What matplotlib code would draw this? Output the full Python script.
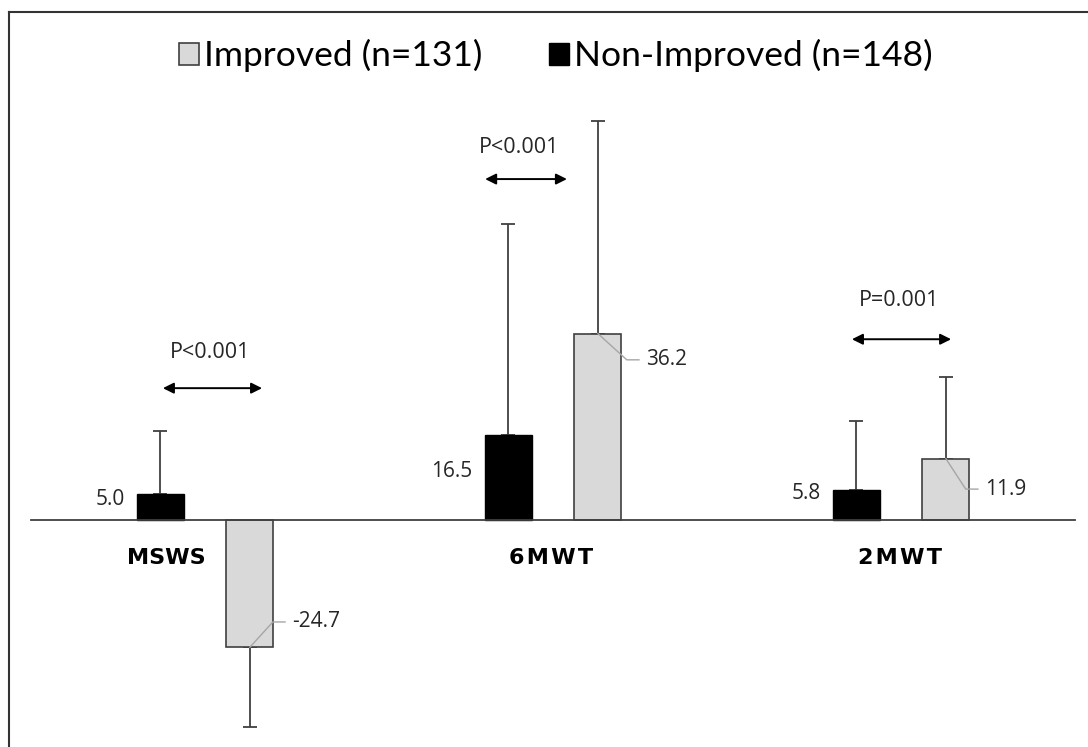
import numpy as np
import matplotlib.pyplot as plt
from matplotlib.lines import Line2D

# ── Data ──────────────────────────────────────────────────────────────────────
categories   = ['MSWS', '6MWT', '2MWT']
non_improved = [5.0, 16.5, 5.8]
improved     = [-24.7, 36.2, 11.9]
err_non      = [12.3, 41.0, 13.4]
err_imp      = [15.5, 41.3, 15.9]
p_labels     = ['P<0.001', 'P<0.001', 'P=0.001']
legend_imp   = 'Improved (n=131)'
legend_non   = 'Non-Improved (n=148)'

# ── Layout (annotation placement only) ────────────────────────────────────────
bar_off, bar_w = 0.129, 0.135
cat_label_dx   = [-0.112, -0.006, -0.003]
non_label_y    = [3.9, 9.5, 5.2]
imp_label_pos  = [(0.25, -19.8), (0.267, 31.1), (0.241, 6.0)]
arrow_span     = [(-0.121, 0.164), (-0.195, 0.040), (-0.141, 0.144)]
arrow_y        = [25.6, 66.2, 35.1]
ptext_x        = [0.014, -0.098, -0.006]
ptext_y        = [32.6, 72.4, 42.7]

DARK  = '#404040'
LIGHT = '#d9d9d9'
VAL_FONT = 'Open Sans'
VAL_SIZE = 15

fig = plt.figure(figsize=(10.88, 7.47), dpi=100)
ax = fig.add_axes([0, 0, 1, 1])
ax.set_xlim(-205 / 348, (1088 - 205) / 348)
ax.set_ylim(-227 / 5.15, 520 / 5.15)
ax.axis('off')

x = np.arange(len(categories))

bars_non = ax.bar(x - bar_off, non_improved, bar_w, color='black',
                  edgecolor='black', linewidth=1, zorder=3)
bars_imp = ax.bar(x + bar_off, improved, bar_w, color=LIGHT,
                  edgecolor=DARK, linewidth=1.2, zorder=3)

# one-sided error bars (away from zero)
for xs, vals, errs in [(x - bar_off, non_improved, err_non),
                       (x + bar_off, improved, err_imp)]:
    vals = np.array(vals)
    errs = np.array(errs)
    lower = np.where(vals < 0, errs, 0)
    upper = np.where(vals >= 0, errs, 0)
    ax.errorbar(xs, vals, yerr=[lower, upper], fmt='none', ecolor=DARK,
                elinewidth=1.3, capsize=5, capthick=1.3, zorder=2)

# zero axis line
ax.plot([-0.5, 2.5], [0, 0], color=DARK, lw=1.3, zorder=4)

# category labels (slightly letter-spaced, bold)
for i, c in enumerate(categories):
    lbl = c if i == 0 else '\u200a'.join(c)
    ax.text(i + cat_label_dx[i], -7.4, lbl, fontsize=16, fontweight='bold',
            family='DejaVu Sans', ha='center', va='center', color='black')

# value labels: Non-Improved to the left of bar
for i, v in enumerate(non_improved):
    ax.text(i - bar_off - bar_w / 2 - 0.035, non_label_y[i], f'{v:.1f}',
            fontsize=VAL_SIZE, family=VAL_FONT, ha='right', va='center',
            color='#262626')

# value labels: Improved to the right with leader lines
for i, v in enumerate(improved):
    tx, ty = imp_label_pos[i]
    tx = i + tx
    ax.plot([i + bar_off, tx - 0.055, tx - 0.02], [v, ty, ty],
            color='#a6a6a6', lw=1, zorder=5)
    ax.text(tx, ty, f'{v:.1f}', fontsize=VAL_SIZE, family=VAL_FONT,
            ha='left', va='center', color='#262626')

# p-value arrows
for i in range(len(categories)):
    x0, x1 = arrow_span[i]
    ax.annotate('', xy=(i + x1, arrow_y[i]), xytext=(i + x0, arrow_y[i]),
                arrowprops=dict(arrowstyle='<|-|>', color='black', lw=1.4,
                                mutation_scale=16, shrinkA=0, shrinkB=0))
    ax.text(i + ptext_x[i], ptext_y[i], p_labels[i], fontsize=15.5,
            family=VAL_FONT, ha='center', va='center', color='#262626')

# legend
ax.legend([bars_imp, bars_non], [legend_imp, legend_non], ncol=2,
          loc='upper center', bbox_to_anchor=(0.511, 0.99), frameon=False,
          prop={'family': 'Lato', 'size': 25.5}, handlelength=0.55,
          handleheight=0.55, handletextpad=0.15, columnspacing=1.9)

# screenshot frame (left and top edges)
fig.add_artist(Line2D([8.5 / 1088, 8.5 / 1088], [0, 1 - 12 / 747],
                      color='#333333', lw=1.5))
fig.add_artist(Line2D([8.5 / 1088, 1], [1 - 12 / 747, 1 - 12 / 747],
                      color='#333333', lw=1.5))

fig.savefig('out.png', dpi=100, facecolor='white')
